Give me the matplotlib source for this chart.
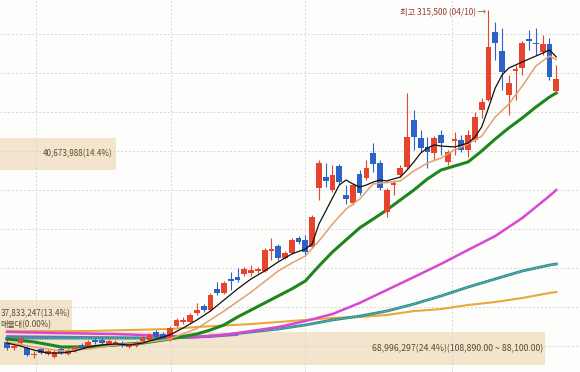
import numpy as np
import matplotlib.pyplot as plt

plt.rcParams['font.family'] = ['Noto Sans CJK KR', 'DejaVu Sans']

# daily candles (won)
opens = [102600, 98700, 101900, 98700, 94200, 98100, 94900, 93000, 98100, 94900,
         96800, 100700, 100000, 103900, 103900, 101300, 100700, 101900, 99400, 100000,
         103200, 103900, 109000, 107700, 103900, 112800, 115400, 115400, 121200, 125700,
         123100, 136600, 134000, 143000, 144200, 146200, 146800, 148100, 148100, 160900,
         164100, 156400, 159600, 169200, 168000, 163500, 201300, 208300, 200000, 215400,
         196800, 191700, 210300, 207700, 223700, 217300, 185900, 203200, 209600, 214800,
         244900, 233300, 227600, 223700, 235300, 218000, 231400, 232100, 225700, 232100,
         251300, 257700, 301300, 289100, 260900, 276300, 278200, 296800, 294200, 288500,
         293600, 263500]
highs = [104500, 101300, 106400, 100000, 96800, 99400, 98100, 97400, 99400, 98700,
         100700, 101900, 103900, 105100, 105100, 104500, 103900, 103200, 102600, 103200,
         106400, 108300, 110300, 109000, 112800, 118000, 118600, 121200, 127600, 126900,
         134000, 141000, 141700, 147400, 150000, 150700, 151900, 150700, 162800, 169200,
         165400, 160900, 169200, 170500, 171200, 184000, 219200, 217300, 216000, 216700,
         203200, 204500, 212800, 219200, 230100, 219200, 201300, 206400, 216000, 262200,
         251300, 238500, 234000, 234600, 238500, 225700, 237200, 235300, 238500, 250000,
         259000, 315500, 307700, 303900, 273700, 280100, 295500, 302600, 303900, 299400,
         297400, 280100]
lows = [97400, 97400, 100700, 93600, 92300, 94900, 94200, 92300, 94900, 94200,
        96200, 98100, 99400, 101300, 101300, 100700, 100000, 99400, 98700, 99400,
        102600, 103200, 105100, 103900, 103200, 112200, 114100, 114800, 119900, 121800,
        122400, 132700, 133300, 135900, 141000, 144900, 144900, 146800, 147400, 155100,
        155100, 155800, 159000, 165400, 158300, 162800, 193600, 201900, 198700, 203900,
        191000, 190400, 196800, 206400, 211500, 200000, 182700, 196800, 208300, 213500,
        225700, 224400, 214100, 219200, 222400, 216000, 222400, 224400, 221200, 230800,
        246200, 257100, 283300, 264100, 248100, 257700, 273700, 289800, 286500, 286500,
        270500, 262200]
closes = [98700, 100000, 104500, 94200, 94900, 95500, 96800, 96200, 95500, 97400,
          99400, 98700, 102600, 102600, 101900, 103200, 102600, 100000, 101300, 101900,
          105100, 107100, 105800, 104500, 111600, 116700, 116700, 119900, 123100, 123100,
          132700, 134000, 140400, 141700, 142300, 149400, 148700, 149400, 161600, 162200,
          156400, 159600, 168000, 166700, 160300, 182700, 217300, 205800, 209600, 205100,
          194200, 203200, 198100, 214100, 216700, 201300, 200000, 204500, 214100, 234000,
          234000, 226900, 224400, 233300, 230100, 224400, 232700, 225700, 235300, 246800,
          256400, 291700, 294200, 275600, 268600, 277600, 294200, 295500, 293600, 293600,
          272400, 271200]
high_date = "04/10"

# moving averages (candle index, won)
ma5_x = [0, 2, 4, 6, 8, 10, 12, 14, 16, 18, 20, 22, 24, 26, 28, 30, 32, 34, 36, 38,
         40, 42, 44, 45, 46, 47, 48, 49, 50, 51, 52, 53, 54, 55, 56, 57, 58, 59, 60, 61,
         62, 63, 64, 66, 68, 69, 70, 71, 72, 73, 74, 76, 78, 79, 80, 81]
ma5 = [101900, 100000, 97400, 95500, 95500, 96800, 99400, 100700, 101300, 100700,
       101900, 104500, 107100, 111600, 116700, 122400, 129500, 136600, 143000, 148100,
       153900, 159000, 162200, 165400, 178200, 186500, 194900, 203200, 206400, 203900,
       201900, 203200, 205100, 206400, 205800, 207100, 208300, 212800, 218000, 223700,
       226900, 228900, 228200, 227600, 230100, 234000, 240400, 252600, 265400, 273700,
       278200, 282100, 285900, 287800, 289800, 285300]
ma10_x = [0, 4, 8, 12, 16, 20, 24, 28, 32, 36, 40, 42, 44, 46, 48, 50, 52, 54, 56, 58,
          60, 62, 64, 66, 68, 70, 72, 74, 76, 78, 80, 81]
ma10 = [102600, 99400, 96800, 98100, 100700, 101900, 104500, 111200, 122400, 134600,
        148100, 153200, 157700, 167300, 178200, 187800, 194200, 203900, 204800, 205800,
        212200, 217300, 220500, 225700, 229500, 234600, 246800, 255100, 266700, 279500,
        285900, 283700]
ma20_x = [0, 4, 8, 12, 16, 20, 24, 28, 30, 32, 34, 36, 38, 40, 42, 44, 46, 48, 50, 52,
          54, 56, 58, 60, 62, 64, 66, 68, 70, 72, 74, 76, 78, 80, 81]
ma20 = [104500, 102600, 99400, 99400, 100700, 101900, 104500, 107700, 110300, 113500,
        118600, 123100, 127600, 132100, 136600, 141700, 151300, 160300, 168000, 175700,
        181400, 187200, 193600, 200000, 207100, 212800, 215400, 218000, 225000, 232700,
        239800, 246200, 253200, 259600, 262200]
ma60_x = [0, 8, 16, 24, 28, 32, 36, 40, 44, 48, 52, 56, 60, 64, 68, 72, 76, 80, 81]
ma60 = [109000, 108300, 107700, 106400, 105800, 107100, 109600, 112200, 116000, 120500,
        127600, 135900, 144200, 152600, 161600, 170500, 182100, 196200, 200000]
ma120_x = [0, 12, 24, 28, 32, 36, 40, 44, 48, 52, 56, 60, 64, 68, 72, 76, 80, 81]
ma120 = [105100, 105100, 105100, 105800, 107100, 109000, 110900, 113500, 116700, 119200,
         122400, 126900, 132100, 137800, 143000, 148100, 151900, 152600]
ma240_x = [0, 12, 24, 28, 36, 40, 48, 52, 56, 60, 64, 68, 72, 76, 80, 81]
ma240 = [109600, 109600, 110900, 112200, 114100, 115400, 118000, 118600, 119900, 122400,
         123700, 126300, 128200, 130800, 134000, 134600]
ma_purple_x = [0, 12, 24, 30, 34]
ma_purple = [106400, 105800, 105100, 105800, 107100]

# volume profile bands
band_low = [88100, 108890, 212840]
band_high = [108890, 129680, 233630]
band_text = ["68,996,297(24.4%)(108,890.00 ~ 88,100.00)", "37,833,247(13.4%)", "40,673,988(14.4%)"]
band_extra = "매물대(0.00%)"

red = '#e6442c'
blue = '#2f62c6'

fig = plt.figure(figsize=(5.8, 3.72), dpi=100)
ax = fig.add_axes([0, 0, 1, 1])
ax.set_facecolor('#fdfdfb')
x0, x1 = -1.03, 84.5
ax.set_xlim(x0, x1)
ax.set_ylim(83350, 321800)

# grid
ax.set_yticks(np.arange(100000, 300001, 25000))
ax.set_xticks([4.3, 24.2, 44.0, 65.6])
ax.grid(color='#d6d6d6', ls=(0, (2, 2)), lw=0.7, zorder=0)
ax.tick_params(length=0, labelleft=False, labelbottom=False)
for s in ax.spines.values():
    s.set_visible(False)

# bands
band_w = [80.4, 10.6, 17.1]
band_tx = [79.0, 9.3, 15.6]
band_fs = [6.3, 5.8, 5.8]
for lo, hi, w, tx, fs, t in zip(band_low, band_high, band_w, band_tx, band_fs, band_text):
    ax.barh((lo + hi) / 2, w, left=x0, height=hi - lo, color='#f2e5cc', zorder=1)
    ty = (lo + hi) / 2
    if t.startswith("37"):
        ty = 121000
    ax.text(tx, ty, t, ha='right', va='center', fontsize=fs, color='#5b4b33', zorder=2)
ax.text(x0 + 0.1, 113500, band_extra, ha='left', va='center', fontsize=5.8, color='#5b4b33', zorder=2)

# moving averages
ax.plot(ma_purple_x, ma_purple, color='#8a63d2', lw=1.3, zorder=4)
ax.plot(ma240_x, ma240, color='#e8a83a', lw=1.5, zorder=4)
ax.plot(ma120_x, ma120, color='#2b8a8e', lw=2.0, zorder=4)
ax.plot(ma120_x, ma120, color='#9fd8d2', lw=0.7, ls=(0, (1, 1.5)), zorder=4)
ax.plot(ma60_x, ma60, color='#d946d6', lw=1.8, zorder=4)
ax.plot(ma20_x, ma20, color='#1f851f', lw=2.2, zorder=4)

# candles
x = np.arange(len(opens))
o = np.array(opens)
c = np.array(closes)
col = np.where(c >= o, red, blue)
ax.vlines(x, lows, highs, colors=col, lw=0.8, zorder=5)
ax.bar(x, np.maximum(np.abs(c - o), 900), bottom=np.minimum(o, c), width=0.85,
       color=col, linewidth=0, zorder=5)

ax.plot(ma10_x, ma10, color='#e0a172', lw=1.1, zorder=6)
ax.plot(ma5_x, ma5, color='#111111', lw=0.9, zorder=6)

# highest price marker
hi = int(np.argmax(highs))
ax.text(hi - 0.35, highs[hi] - 2000, f"최고 {highs[hi]:,} ({high_date}) →", ha='right', va='center',
        fontsize=6, color='#9b3b35', zorder=7)

plt.savefig("out.png", dpi=100)
